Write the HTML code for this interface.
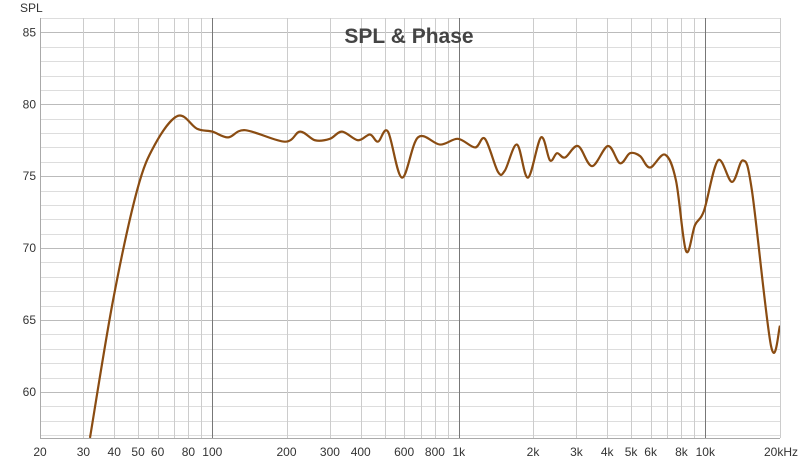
<!DOCTYPE html>
<html><head><meta charset="utf-8"><style>
body{margin:0;background:#fff;}
svg text{font-family:"Liberation Sans",sans-serif;}
</style></head><body>
<svg id="chart" width="800" height="462" xmlns="http://www.w3.org/2000/svg">
<rect x="0" y="0" width="800" height="462" fill="#fff"/>
<g id="grid"></g>
<g id="axes"></g>
<text x="409" y="43" text-anchor="middle" font-size="21" font-weight="bold" fill="#444">SPL &amp; Phase</text>
<text x="20" y="12" font-size="12" fill="#333">SPL</text>
<path id="curve" fill="none" stroke="#8a4c12" stroke-width="2.2"/>
</svg>
<script>
const freqs=[31.9,39.6,49.5,58.5,72.6,86.7,100,116,136,197,227,261,300,336,390,436,470,516,588,683,839,992,1164,1277,1442,1539,1722,1908,2156,2344,2503,2698,3046,3471,4030,4508,4950,5436,5968,6864,7604,8352,9084,9880,11260,12836,14220,15460,18474,20092];
const spl=[56.8,66.4,74.0,77.2,79.2,78.3,78.1,77.7,78.2,77.4,78.1,77.5,77.6,78.1,77.5,77.9,77.4,78.1,74.9,77.7,77.2,77.6,77.0,77.6,75.3,75.4,77.2,74.9,77.7,76.1,76.6,76.3,77.1,75.7,77.1,75.9,76.6,76.4,75.6,76.5,74.7,69.8,71.6,72.6,76.1,74.6,76.1,74.0,63.2,64.6];
const yTicks=[60,65,70,75,80,85];
const xTickVals=[20,30,40,50,60,80,100,200,300,400,600,800,1000,2000,3000,4000,5000,6000,8000,10000,20000];
const xTickLabels=["20","30","40","50","60","80","100","200","300","400","600","800","1k","2k","3k","4k","5k","6k","8k","10k","20kHz"];
const L=40,R=780,T=18,B=438,DEC=246.5;
const xs=f=>L+DEC*Math.log10(f/20);
const ys=v=>104.3-(v-80)*14.38;
const NS="http://www.w3.org/2000/svg";
const grid=document.getElementById('grid'),axes=document.getElementById('axes');
function line(g,x1,y1,x2,y2,c,name){const l=document.createElementNS(NS,'line');l.setAttribute('x1',x1);l.setAttribute('y1',y1);l.setAttribute('x2',x2);l.setAttribute('y2',y2);l.setAttribute('stroke',c);l.setAttribute('stroke-width',1);


g.appendChild(l);}
function text(g,x,y,s,anchor,name){const t=document.createElementNS(NS,'text');t.setAttribute('x',x);t.setAttribute('y',y);t.setAttribute('font-size',12);t.setAttribute('fill','#333');t.setAttribute('text-anchor',anchor);t.textContent=s;


g.appendChild(t);}
for(let v=57;v<=86;v++){const y=Math.round(ys(v))+0.5;if(y<T||y>B)continue;line(grid,L,y,R,y,v%5===0?'#bbb':'#ddd','h-gridline');}
const minor=[];for(let d=10;d<=10000;d*=10)for(let k=1;k<=9;k++){const f=d*k;if(f>=20&&f<=20000)minor.push(f);}
minor.forEach(f=>{const x=Math.round(xs(f))+0.5;const major=(f===100||f===1000||f===10000);line(grid,x,T,x,B,major?'#777':'#ccc','v-gridline');});
line(axes,L+0.5,T,L+0.5,B,'#aaa','y-axis');line(axes,L,B+0.5,R,B+0.5,'#aaa','x-axis');
yTicks.forEach(v=>text(axes,36,ys(v)+4,String(v),'end','y-tick-label'));
xTickVals.forEach((f,i)=>{let x=xs(f);let a='middle';if(i===xTickLabels.length-1){a='end';x=798;}text(axes,x,456,xTickLabels[i],a,'x-tick-label');});
const pts=freqs.map((f,i)=>[xs(f),ys(spl[i])]);
let d='M'+pts[0][0]+','+pts[0][1];
for(let i=0;i<pts.length-1;i++){const p0=pts[Math.max(0,i-1)],p1=pts[i],p2=pts[i+1],p3=pts[Math.min(pts.length-1,i+2)];
const c1=[p1[0]+(p2[0]-p0[0])/6,p1[1]+(p2[1]-p0[1])/6],c2=[p2[0]-(p3[0]-p1[0])/6,p2[1]-(p3[1]-p1[1])/6];
d+=' C'+c1+' '+c2+' '+p2;}
const c=document.getElementById('curve');c.setAttribute('d',d);
const cp=document.createElementNS(NS,'clipPath');cp.id='clip';const r=document.createElementNS(NS,'rect');r.setAttribute('x',L);r.setAttribute('y',T);r.setAttribute('width',R-L);r.setAttribute('height',B-T);cp.appendChild(r);document.getElementById('chart').appendChild(cp);c.setAttribute('clip-path','url(#clip)');
</script>
</body></html>
